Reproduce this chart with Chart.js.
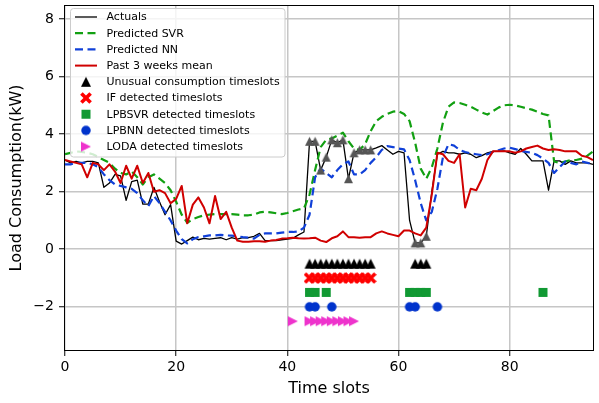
<!DOCTYPE html>
<html><head><meta charset="utf-8">
<script src="https://cdn.jsdelivr.net/npm/chart.js@4"></script>
<style>html,body{margin:0;padding:0;background:#fff}#wrap{width:599px;height:403px;position:relative}</style>
</head><body><div id="wrap"><canvas id="c"></canvas></div>
<script>
// ---------- data ----------
const timeSlots = [0,1,2,3,4,5,6,7,8,9,10,11,12,13,14,15,16,17,18,19,20,21,22,23,24,25,26,27,28,29,30,31,32,33,34,35,36,37,38,39,40,41,42,43,44,45,46,47,48,49,50,51,52,53,54,55,56,57,58,59,60,61,62,63,64,65,66,67,68,69,70,71,72,73,74,75,76,77,78,79,80,81,82,83,84,85,86,87,88,89,90,91,92,93,94,95];
const actuals = [3.1,3.0,3.05,3.0,3.05,3.05,3.0,2.15,2.3,2.6,2.55,1.7,2.35,2.4,1.57,1.57,2.15,1.65,1.2,1.55,0.28,0.18,0.3,0.42,0.33,0.38,0.35,0.38,0.4,0.33,0.4,0.35,0.4,0.4,0.45,0.55,0.3,0.3,0.3,0.33,0.35,0.38,0.5,0.6,3.75,3.75,2.75,3.2,3.8,3.7,3.8,2.45,3.35,3.45,3.45,3.45,3.52,3.6,3.45,3.3,3.4,3.35,1.0,0.22,0.22,0.45,2.0,3.3,3.4,3.35,3.35,3.3,3.35,3.3,3.18,3.25,3.35,3.4,3.4,3.42,3.35,3.3,3.5,3.3,3.07,3.07,3.07,2.05,3.07,3.07,2.95,3.07,3.0,3.0,3.0,2.95];
const predictedSVR = [3.3,3.35,3.4,3.38,3.35,3.3,3.2,3.1,3.0,2.8,2.65,2.6,2.7,2.5,2.25,2.5,2.6,2.45,2.3,2.05,1.65,1.2,0.92,1.05,1.12,1.18,1.2,1.22,1.22,1.22,1.22,1.2,1.18,1.18,1.2,1.28,1.3,1.28,1.25,1.22,1.26,1.32,1.38,1.42,1.9,2.75,3.55,3.8,3.85,3.95,4.05,3.75,3.5,3.45,3.65,4.1,4.45,4.6,4.7,4.78,4.8,4.7,4.45,3.7,2.8,2.45,2.85,3.5,4.4,4.95,5.1,5.08,5.02,4.95,4.85,4.75,4.68,4.8,4.92,5.0,5.02,5.0,4.95,4.9,4.85,4.78,4.7,4.65,3.05,3.0,3.05,3.1,3.1,3.15,3.25,3.4];
const predictedNN = [2.95,2.95,3.0,3.0,3.0,2.95,2.85,2.6,2.4,2.25,2.2,2.15,2.1,1.95,1.7,1.5,1.85,1.6,1.3,1.0,0.65,0.35,0.2,0.35,0.42,0.45,0.48,0.48,0.5,0.48,0.47,0.45,0.42,0.4,0.37,0.5,0.55,0.55,0.55,0.58,0.6,0.6,0.62,0.75,1.2,2.5,2.8,2.65,2.5,2.75,2.95,3.05,2.6,2.6,2.75,3.0,3.2,3.45,3.58,3.55,3.5,3.47,3.1,2.4,1.6,1.0,1.3,2.1,3.2,3.65,3.6,3.45,3.38,3.33,3.3,3.27,3.3,3.38,3.44,3.5,3.53,3.48,3.42,3.38,3.35,3.27,3.15,3.0,2.65,2.85,3.05,3.0,2.95,3.05,3.0,2.95];
const pastThreeWeeksMean = [3.1,3.05,3.0,2.95,2.5,3.0,2.95,2.75,2.95,2.7,2.3,2.9,2.45,2.9,2.3,2.65,2.0,2.05,1.95,1.6,1.75,2.2,0.9,1.55,1.8,1.45,0.9,1.85,1.05,1.3,0.75,0.3,0.26,0.26,0.28,0.28,0.26,0.3,0.32,0.37,0.38,0.4,0.38,0.37,0.38,0.4,0.3,0.25,0.38,0.45,0.62,0.42,0.42,0.4,0.42,0.42,0.55,0.62,0.55,0.5,0.45,0.65,0.65,0.55,0.48,0.75,1.9,3.35,3.3,3.07,3.0,3.3,1.45,2.1,2.05,2.45,3.1,3.4,3.4,3.4,3.4,3.35,3.4,3.5,3.55,3.6,3.5,3.45,3.47,3.45,3.4,3.4,3.4,3.25,3.2,3.1];

// detected / flagged timeslots
const unusualSlots = [44,45,46,47,48,49,50,51,52,53,54,55,63,64,65];
const ifSlots = [44,45,46,47,48,49,50,51,52,53,54,55];
const lpbsvrSlots = [44,45,47,62,63,64,65,86];
const lpbnnSlots = [44,45,48,62,63,67];
const lodaSlots = [41,44,45,46,47,48,49,50,51,52];
// level at which each detector row is plotted
const unusualRow = -0.5, ifRow = -1.0, lpbsvrRow = -1.5, lpbnnRow = -2.0, lodaRow = -2.5;

const xTicks = [0,20,40,60,80];
const yTicks = [-2,0,2,4,6,8];
const xRange = [0,95];
const yRange = [-3.5,8.45];

// ---------- styling ----------
const F = "'DejaVu Sans', sans-serif";
function marker(shape, size, fill){
  const s = Math.ceil(size)+2;
  const c = document.createElement('canvas'); c.width=s; c.height=s;
  const g = c.getContext('2d'); g.translate(s/2,s/2); g.fillStyle=fill;
  const h = size/2; g.beginPath();
  if(shape==='tri'){g.moveTo(0,-h);g.lineTo(h,h);g.lineTo(-h,h);}
  else if(shape==='triR'){g.moveTo(h,0);g.lineTo(-h,h);g.lineTo(-h,-h);}
  else if(shape==='sq'){g.rect(-h,-h,size,size);}
  else if(shape==='circ'){g.arc(0,0,h,0,Math.PI*2);}
  else if(shape==='x'){
    const L=h*1.3, w=h*0.36; const pts=[[-w,-L],[w,-L],[w,-w],[L,-w],[L,w],[w,w],[w,L],[-w,L],[-w,w],[-L,w],[-L,-w],[-w,-w]];
    const a=Math.PI/4, ca=Math.cos(a), sa=Math.sin(a);
    pts.forEach((p,i)=>{const x=p[0]*ca-p[1]*sa, y=p[0]*sa+p[1]*ca; if(i===0)g.moveTo(x,y); else g.lineTo(x,y);});
  }
  g.closePath(); g.fill();
  return c;
}
const mGray = marker('tri',9,'#555555');
const mTri = marker('tri',10,'#000000');
const mX = marker('x',10,'#ff0000');
const mSq = marker('sq',9,'#119933');
const mCirc = marker('circ',9.5,'#0033cc');
const mTriR = marker('triR',10,'#ee33cc');

const pts = (ys)=>timeSlots.map((x,i)=>({x, y: ys[i]}));
const row = (slots, level)=>slots.map(s=>({x:s, y:level}));

const lineBase = {pointRadius:0, tension:0, fill:false, borderJoinStyle:'round'};
const datasets = [
  Object.assign({label:'Actuals', data:pts(actuals), borderColor:'#000000', borderWidth:1.3}, lineBase),
  Object.assign({label:'Predicted SVR', data:pts(predictedSVR), borderColor:'#12a012', borderWidth:2.2, borderDash:[8,4.5]}, lineBase),
  Object.assign({label:'Predicted NN', data:pts(predictedNN), borderColor:'#1040d8', borderWidth:2.2, borderDash:[8,4.5]}, lineBase),
  Object.assign({label:'Past 3 weeks mean', data:pts(pastThreeWeeksMean), borderColor:'#d00000', borderWidth:2}, lineBase),
  {label:'', data:unusualSlots.map(s=>({x:s,y:actuals[s]})), showLine:false, pointStyle:mGray, pointRadius:5, legendMarker:null},
  {label:'Unusual consumption timeslots', data:row(unusualSlots,unusualRow), showLine:false, pointStyle:mTri, pointRadius:5, legendMarker:mTri},
  {label:'IF detected timeslots', data:row(ifSlots,ifRow), showLine:false, pointStyle:mX, pointRadius:5, legendMarker:mX},
  {label:'LPBSVR detected timeslots', data:row(lpbsvrSlots,lpbsvrRow), showLine:false, pointStyle:mSq, pointRadius:5, legendMarker:mSq},
  {label:'LPBNN detected timeslots', data:row(lpbnnSlots,lpbnnRow), showLine:false, pointStyle:mCirc, pointRadius:5, legendMarker:mCirc},
  {label:'LODA detected timeslots', data:row(lodaSlots,lodaRow), showLine:false, pointStyle:mTriR, pointRadius:5, legendMarker:mTriR},
];
datasets.forEach((d,i)=>{d.order = datasets.length - i;});

const overlay = {
  id:'overlay',
  afterDatasetsDraw(chart){
    const {ctx, chartArea:a} = chart;
    ctx.save();
    // frame
    ctx.strokeStyle='#000'; ctx.lineWidth=1;
    const L=Math.round(a.left)-0.5, T=Math.round(a.top)-0.5, R=Math.round(a.right)+0.5, B=Math.round(a.bottom)+0.5;
    ctx.strokeRect(L, T, R-L, B-T);
    // legend
    const bx=70.5, by=8.5, bw=214.5, bh=148.5, r=3;
    ctx.beginPath();
    ctx.moveTo(bx+r,by); ctx.lineTo(bx+bw-r,by); ctx.arcTo(bx+bw,by,bx+bw,by+r,r);
    ctx.lineTo(bx+bw,by+bh-r); ctx.arcTo(bx+bw,by+bh,bx+bw-r,by+bh,r);
    ctx.lineTo(bx+r,by+bh); ctx.arcTo(bx,by+bh,bx,by+bh-r,r);
    ctx.lineTo(bx,by+r); ctx.arcTo(bx,by,bx+r,by,r); ctx.closePath();
    ctx.fillStyle='rgba(255,255,255,0.8)'; ctx.fill();
    ctx.strokeStyle='#cccccc'; ctx.lineWidth=1; ctx.stroke();
    ctx.font = "11px "+F; ctx.textBaseline='middle'; ctx.textAlign='left';
    let k=0;
    chart.data.datasets.forEach(d=>{
      if(!d.label) return;
      const y = 17 + 16.2*k; k++;
      if(d.showLine===false){
        const m=d.legendMarker; ctx.drawImage(m, 86-m.width/2, y-m.height/2);
      } else {
        ctx.beginPath(); ctx.setLineDash(d.borderDash||[]); ctx.lineDashOffset=0;
        ctx.strokeStyle=d.borderColor; ctx.lineWidth=d.borderWidth; ctx.lineCap='butt';
        ctx.moveTo(75,y); ctx.lineTo(97,y); ctx.stroke(); ctx.setLineDash([]);
      }
      ctx.fillStyle='#000'; ctx.fillText(d.label, 106.5, y+0.5);
    });
    ctx.restore();
  }
};

const minus = v => (v<0 ? '\u2212'+Math.abs(v) : String(v));

new Chart(document.getElementById('c'), {
  type:'line',
  data:{datasets},
  plugins:[overlay],
  options:{
    responsive:true, maintainAspectRatio:false, animation:false, events:[],
    layout:{padding:{top:3,right:2,bottom:0,left:0}},
    plugins:{legend:{display:false}, tooltip:{enabled:false}},
    scales:{
      x:{type:'linear', min:xRange[0], max:xRange[1],
        afterBuildTicks:s=>{s.ticks = xTicks.map(v=>({value:v}));},
        afterFit:s=>{s.height=53; s.paddingLeft=0; s.paddingRight=0; s.paddingTop=0; s.paddingBottom=0;},
        grid:{color:'#c6c6c6', lineWidth:1.5, tickLength:6, tickColor:'#000', tickWidth:1},
        border:{display:false},
        ticks:{font:{family:F,size:14}, color:'#000', padding:3, maxRotation:0, autoSkip:false, callback:v=>minus(v)},
        title:{display:true, text:'Time slots', font:{family:F,size:16}, color:'#000', padding:{top:0,bottom:5}}
      },
      y:{type:'linear', min:yRange[0], max:yRange[1],
        afterBuildTicks:s=>{s.ticks = yTicks.map(v=>({value:v}));},
        afterFit:s=>{s.width=65; s.paddingLeft=0; s.paddingRight=0; s.paddingTop=0; s.paddingBottom=0;},
        grid:{color:'#c6c6c6', lineWidth:1.5, tickLength:6, tickColor:'#000', tickWidth:1},
        border:{display:false},
        ticks:{font:{family:F,size:14}, color:'#000', padding:5, autoSkip:false, callback:v=>minus(v)},
        title:{display:true, text:'Load Consumption(kW)', font:{family:F,size:16}, color:'#000', padding:{top:7,bottom:0}}
      }
    }
  }
});
</script></body></html>
